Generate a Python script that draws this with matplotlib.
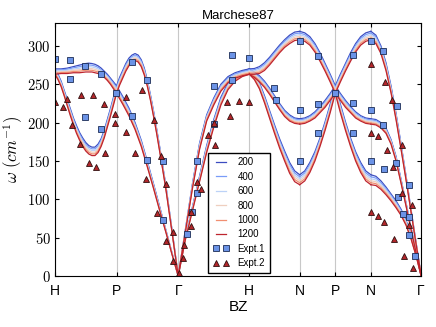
import numpy as np
import matplotlib
matplotlib.use('Agg')
import matplotlib.pyplot as plt
from matplotlib.ticker import FuncFormatter

plt.rcParams['font.family'] = ['Liberation Sans', 'DejaVu Sans']
plt.rcParams['mathtext.fontset'] = 'cm'

# BCC path H-P-G-H-N-P-N-G, cumulative distance in 2pi/a
k_labels = ['H', 'P', 'Γ', 'H', 'N', 'P', 'N', 'Γ']
k_ticks = [0.0, 0.866, 1.732, 2.732, 3.439, 3.939, 4.439, 5.146]

temperatures = [200, 400, 600, 800, 1000, 1200]

# phonon branches (cm^-1) sampled evenly along each segment, read at 200 K and 1200 K
hp_200 = [[270, 270, 270, 270.5, 271, 272, 273, 274, 275, 276, 277,
           277.5, 277, 276, 274, 271, 267, 263, 258, 253, 248],
          [270, 263, 254, 242, 230, 218, 206, 196, 187, 180, 174,
           170, 168, 168, 172, 179, 190, 204, 218, 233, 248]]
hp_1200 = [[263, 263.5, 264, 264, 264, 264.5, 265, 265, 265, 265.5, 266,
            266, 266, 265, 264, 262, 259, 255, 250, 244, 238],
           [263, 256, 247, 235, 222, 209, 197, 186, 177, 169, 163,
            159, 157, 157, 161, 169, 180, 194, 208, 223, 238]]

pg_200 = [[248, 259, 268, 277, 284, 288, 290, 288, 282, 271, 255,
           236, 215, 192, 168, 143, 118, 89, 60, 30, 0],
          [248, 234, 219, 200, 177, 149, 120, 90, 60, 30, 0]]
pg_1200 = [[238, 249, 258, 267, 274, 279, 281, 279, 273, 262, 247,
            229, 208, 186, 162, 138, 113, 85, 57, 28, 0],
           [238, 224, 209, 191, 169, 142, 114, 85, 57, 28, 0]]

gh_200 = [[0, 60, 120, 173, 210, 232, 250, 260, 265, 268, 270],
          [0, 50, 90, 130, 170, 204, 233, 252, 262, 267, 270]]
gh_1200 = [[0, 57, 114, 165, 202, 223, 241, 252, 258, 261, 263],
           [0, 47, 85, 123, 161, 194, 223, 243, 254, 260, 263]]

hn_200 = [[270, 270.5, 273, 278, 285, 293, 301, 308, 314, 318, 319],
          [270, 266, 261, 254, 245, 235, 225, 216, 210, 206, 205],
          [270, 264, 252, 235, 216, 197, 179, 163, 148, 137, 132]]
hn_1200 = [[263, 263, 264, 268, 275, 283, 291, 298, 303, 307, 308],
           [263, 259, 253, 246, 237, 227, 217, 208, 202, 199, 198],
           [263, 256, 244, 226, 206, 186, 167, 150, 134, 123, 119]]

np_200 = [[319, 317, 312, 303, 291, 277, 263, 248],
          [205, 206, 209, 214, 221, 229, 238, 248],
          [132, 137, 148, 162, 180, 201, 224, 248]]
np_1200 = [[308, 306, 301, 292, 280, 267, 253, 238],
           [198, 199, 202, 206, 213, 220, 229, 238],
           [119, 124, 135, 150, 169, 190, 213, 238]]

ng_200 = [[319, 314, 300, 278, 248, 212, 172, 130, 86, 43, 0],
          [205, 204, 200, 193, 178, 156, 126, 95, 63, 31, 0],
          [132, 130, 124, 116, 107, 98, 87, 73, 52, 28, 0]]
ng_1200 = [[308, 303, 290, 268, 239, 204, 165, 125, 83, 41, 0],
           [198, 197, 193, 186, 172, 150, 121, 91, 60, 30, 0],
           [119, 118, 113, 106, 98, 89, 79, 66, 48, 26, 0]]

# P-N is the same line as N-P, walked backwards
pn_200 = [b[::-1] for b in np_200]
pn_1200 = [b[::-1] for b in np_1200]

segments = [hp_200, pg_200, gh_200, hn_200, np_200, pn_200, ng_200]
segments_hot = [hp_1200, pg_1200, gh_1200, hn_1200, np_1200, pn_1200, ng_1200]

# experiments
expt1_k = [0.0, 0.211, 0.211, 0.422, 0.422, 0.647, 0.654, 0.858, 1.083, 1.083,
           1.294, 1.294, 1.523, 1.514, 1.849, 1.922, 1.990, 1.990, 2.229, 2.229,
           2.485, 2.485, 2.732, 3.084, 3.107, 3.439, 3.439, 3.439, 3.691, 3.691,
           3.691, 3.939, 4.194, 4.194, 4.194, 4.439, 4.439, 4.439, 4.616, 4.616,
           4.626, 4.805, 4.795, 4.823, 4.897, 4.978, 4.973, 4.978, 5.062]
expt1_w = [283, 281, 257, 274, 207, 263, 192, 238, 279, 209,
           256, 151, 150, 73, 55, 83, 108, 150, 198, 248,
           288, 256, 284, 245, 230, 307, 216, 150, 287, 224,
           186, 238, 288, 225, 186, 306, 216, 150, 293, 197,
           140, 221, 147, 103, 81, 77, 119, 54, 26]

expt2_k = [0.0, 0.117, 0.176, 0.239, 0.346, 0.363, 0.481, 0.530, 0.577, 0.689,
           0.707, 0.839, 0.839, 1.005, 0.998, 1.125, 1.219, 1.275, 1.396, 1.488,
           1.430, 1.561, 1.557, 1.663, 1.663, 1.739, 1.804, 1.814, 1.909, 1.912,
           1.992, 2.049, 2.144, 2.254, 2.236, 2.414, 2.466, 2.591, 2.732, 4.445,
           4.643, 4.734, 4.445, 4.546, 4.664, 4.757, 4.875, 4.445, 4.546, 4.630,
           4.771, 4.911, 5.038, 4.875, 5.016, 4.978]
expt2_w = [227, 220, 231, 197, 172, 236, 147, 236, 142, 224,
           161, 211, 200, 234, 188, 161, 243, 127, 203, 157,
           82, 120, 46, 58, 19, 4, 23, 40, 83, 65,
           123, 113, 184, 171, 200, 227, 209, 228, 227, 277,
           253, 230, 187, 183, 164, 142, 171, 83, 78, 71,
           48, 26, 10, 108, 93, 66]

fig = plt.figure(figsize=(4.36, 3.27), dpi=100)
ax = fig.add_axes([0.126, 0.156, 0.840, 0.774])

for x in k_ticks:
    ax.axvline(x, color='#c8c8c8', lw=0.8, zorder=0)

colors = plt.cm.coolwarm(np.linspace(0, 0.97, len(temperatures)))
for j, T in enumerate(temperatures):
    f = j / (len(temperatures) - 1)
    for i, (cold, hot) in enumerate(zip(segments, segments_hot)):
        for n, (b_cold, b_hot) in enumerate(zip(cold, hot)):
            k = np.linspace(k_ticks[i], k_ticks[i + 1], len(b_cold))
            w = (1 - f) * np.array(b_cold) + f * np.array(b_hot)
            ax.plot(k, w, color=colors[j], lw=0.9,
                    label=str(T) if (i == 0 and n == 0) else None)

ax.plot(expt1_k, expt1_w, 's', ms=4.8, mfc='#6b93e6', mec='#1c2c55', mew=0.6,
        label='Expt.1')
ax.plot(expt2_k, expt2_w, '^', ms=4.8, mfc='#b3262a', mec='#301010', mew=0.6,
        label='Expt.2')

ax.set_xlim(k_ticks[0], k_ticks[-1])
ax.set_ylim(0, 330)
ax.set_xticks(k_ticks)
ax.set_xticklabels(k_labels, fontsize=10)
ax.set_yticks(range(0, 301, 50))
ax.yaxis.set_major_formatter(FuncFormatter(lambda v, p: r'$%d$' % v))
ax.tick_params(axis='y', labelsize=10.5, pad=3)
ax.tick_params(axis='x', pad=6)
ax.tick_params(direction='in', length=3, top=True, right=True)
ax.set_xlabel('BZ', fontsize=11, labelpad=1)
ax.set_ylabel(r'$\omega\ (cm^{-1})$', fontsize=12, labelpad=2)
ax.set_title('Marchese87', fontsize=9.5, pad=3)

ax.legend(loc='lower left', bbox_to_anchor=(0.419, 0.012), borderaxespad=0,
          fontsize=7, numpoints=2, handlelength=1.6, handletextpad=0.9,
          labelspacing=0.45, borderpad=0.5, fancybox=False, framealpha=1,
          edgecolor='black')

fig.savefig('out.png', dpi=100)
